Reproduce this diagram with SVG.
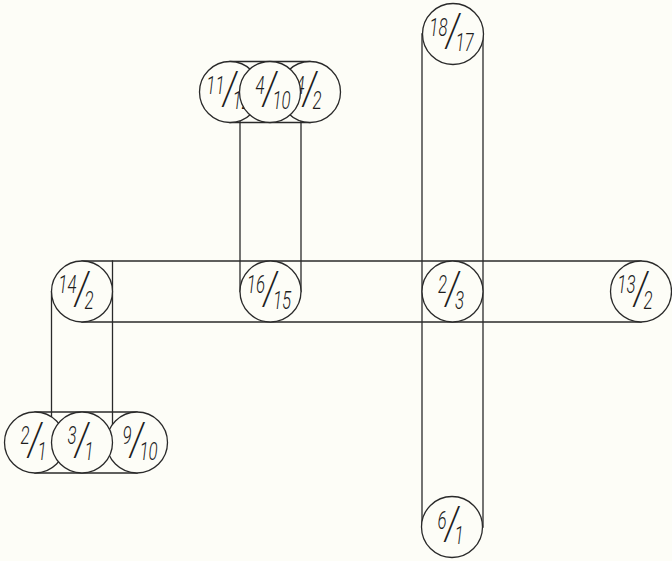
<svg xmlns="http://www.w3.org/2000/svg" width="672" height="561" viewBox="0 0 672 561">
  <style>
    .bar { stroke: #2a2a2a; stroke-width: 1.3; fill: none; stroke-linecap: square; }
    .node circle { fill: #fdfdf7; stroke: #2a2a2a; stroke-width: 1.3; }
    .node text { font-family: Roboto, Inter, "DejaVu Sans", sans-serif; font-weight: 300; font-style: italic; fill: #1e1e1e; }
    .num { font-size: 26px; text-anchor: end; }
    .den { font-size: 26px; text-anchor: start; }
    .sl { font-family: Roboto, Inter, "DejaVu Sans", sans-serif; font-weight: 300; font-style: italic; font-size: 46px; text-anchor: middle; fill: #1e1e1e; }
  </style>
  <defs>
    <!-- fraction slash shared by every node -->
    <text id="slash" class="sl" x="0" y="12" transform="scale(0.75,1)">/</text>
  </defs>
  <rect width="672" height="561" fill="#fdfdf7"/>

  <g id="connectors">
    <!-- long horizontal band -->
    <line class="bar" x1="82" y1="261" x2="641" y2="261"/>
    <line class="bar" x1="82" y1="322" x2="641" y2="322"/>
    <!-- long vertical band -->
    <line class="bar" x1="422" y1="34" x2="422" y2="527"/>
    <line class="bar" x1="483" y1="34" x2="483" y2="527"/>
    <!-- 16/15 up to the upper group -->
    <line class="bar" x1="240" y1="92" x2="240" y2="291.5"/>
    <line class="bar" x1="301" y1="92" x2="301" y2="291.5"/>
    <!-- 14/2 down to the lower group -->
    <line class="bar" x1="51.5" y1="291.5" x2="51.5" y2="442.5"/>
    <line class="bar" x1="112.5" y1="261" x2="112.5" y2="442.5"/>
    <!-- upper group band -->
    <line class="bar" x1="230" y1="61.5" x2="310" y2="61.5"/>
    <line class="bar" x1="230" y1="122.5" x2="310" y2="122.5"/>
    <!-- lower group band -->
    <line class="bar" x1="35" y1="412" x2="137" y2="412"/>
    <line class="bar" x1="35" y1="473" x2="137" y2="473"/>
  </g>

  <g id="n18_17" class="node" transform="translate(453,34)">
    <circle r="30.5"/><use href="#slash"/>
    <g transform="scale(0.65,1)"><text class="num" x="-8.5" y="1.5">18</text><text class="den" x="3.8" y="17">17</text></g>
  </g>

  <g id="n11_12" class="node" transform="translate(230,92)">
    <circle r="30.5"/><use href="#slash"/>
    <g transform="scale(0.65,1)"><text class="num" x="-8.5" y="1.5">11</text><text class="den" x="3.8" y="17">12</text></g>
  </g>
  <g id="n4_2" class="node" transform="translate(310,92)">
    <circle r="30.5"/><use href="#slash"/>
    <g transform="scale(0.65,1)"><text class="num" x="-8.5" y="1.5">4</text><text class="den" x="3.8" y="17">2</text></g>
  </g>
  <g id="n4_10" class="node" transform="translate(270,92)">
    <circle r="30.5"/><use href="#slash"/>
    <g transform="scale(0.65,1)"><text class="num" x="-8.5" y="1.5">4</text><text class="den" x="3.8" y="17">10</text></g>
  </g>

  <g id="n14_2" class="node" transform="translate(82,291.5)">
    <circle r="30.5"/><use href="#slash"/>
    <g transform="scale(0.65,1)"><text class="num" x="-8.5" y="1.5">14</text><text class="den" x="3.8" y="17">2</text></g>
  </g>
  <g id="n16_15" class="node" transform="translate(270.5,291.5)">
    <circle r="30.5"/><use href="#slash"/>
    <g transform="scale(0.65,1)"><text class="num" x="-8.5" y="1.5">16</text><text class="den" x="3.8" y="17">15</text></g>
  </g>
  <g id="n2_3" class="node" transform="translate(452.5,291.5)">
    <circle r="30.5"/><use href="#slash"/>
    <g transform="scale(0.65,1)"><text class="num" x="-8.5" y="1.5">2</text><text class="den" x="3.8" y="17">3</text></g>
  </g>
  <g id="n13_2" class="node" transform="translate(641,291.5)">
    <circle r="30.5"/><use href="#slash"/>
    <g transform="scale(0.65,1)"><text class="num" x="-8.5" y="1.5">13</text><text class="den" x="3.8" y="17">2</text></g>
  </g>

  <g id="n2_1" class="node" transform="translate(35,442.5)">
    <circle r="30.5"/><use href="#slash"/>
    <g transform="scale(0.65,1)"><text class="num" x="-8.5" y="1.5">2</text><text class="den" x="3.8" y="17">1</text></g>
  </g>
  <g id="n9_10" class="node" transform="translate(137,442.5)">
    <circle r="30.5"/><use href="#slash"/>
    <g transform="scale(0.65,1)"><text class="num" x="-8.5" y="1.5">9</text><text class="den" x="3.8" y="17">10</text></g>
  </g>
  <g id="n3_1" class="node" transform="translate(82,442.5)">
    <circle r="30.5"/><use href="#slash"/>
    <g transform="scale(0.65,1)"><text class="num" x="-8.5" y="1.5">3</text><text class="den" x="3.8" y="17">1</text></g>
  </g>

  <g id="n6_1" class="node" transform="translate(452,527)">
    <circle r="30.5"/><use href="#slash"/>
    <g transform="scale(0.65,1)"><text class="num" x="-8.5" y="1.5">6</text><text class="den" x="3.8" y="17">1</text></g>
  </g>
</svg>
